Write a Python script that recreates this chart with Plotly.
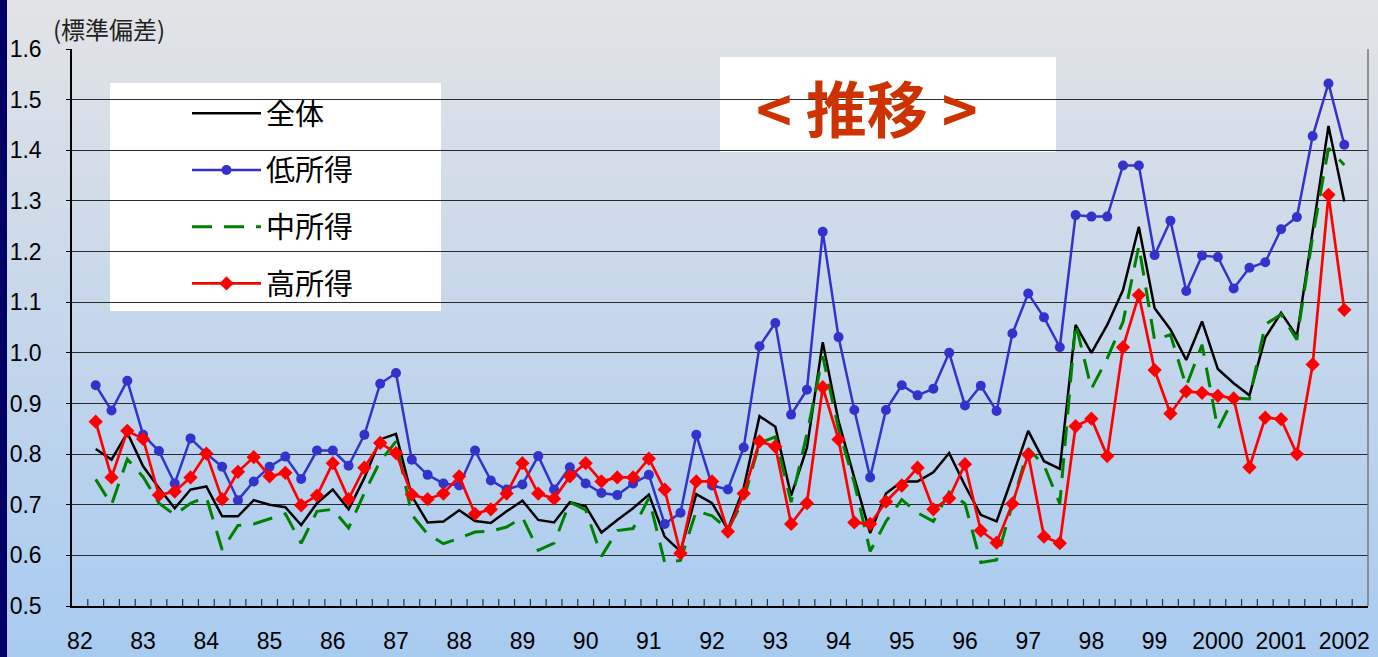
import plotly.graph_objects as go

# 四半期（82年1Q～2002年2Q）
years = [str(y) for y in range(82, 100)] + ["2000", "2001", "2002"]
quarters = [f"{y}Q{q}" for y in years for q in range(1, 5)][:82]
pos = list(range(len(quarters)))
data_pos = pos[1:81]  # 82年2Q～2002年1Q
year_pos = [p for p, q in zip(pos, quarters) if q.endswith("Q1")]
year_text = [q[:-2] for q in quarters if q.endswith("Q1")]
bounds = [p + 0.5 for p in pos[:-1]]

# 標準偏差
total = [0.810, 0.789, 0.842, 0.776, 0.733, 0.693, 0.730, 0.736, 0.677, 0.677, 0.709, 0.700, 0.695,
         0.660, 0.703, 0.730, 0.691, 0.753, 0.829, 0.840, 0.717, 0.665, 0.667, 0.689, 0.668, 0.664, 0.687,
         0.708, 0.670, 0.665, 0.705, 0.697, 0.645, 0.670, 0.693, 0.720, 0.637, 0.608, 0.721, 0.703, 0.651,
         0.733, 0.875, 0.854, 0.718, 0.812, 1.021, 0.865, 0.753, 0.644, 0.722, 0.746, 0.746, 0.764, 0.802,
         0.738, 0.680, 0.667, 0.755, 0.846, 0.786, 0.771, 1.055, 1.000, 1.055, 1.124, 1.249, 1.088,
         1.046, 0.986, 1.062, 0.968, 0.940, 0.916, 1.030, 1.079, 1.033, 1.240, 1.448, 1.299]
low = [0.936, 0.886, 0.945, 0.838, 0.806, 0.742, 0.831, 0.801, 0.775, 0.709, 0.746, 0.775, 0.795,
       0.751, 0.807, 0.807, 0.777, 0.838, 0.939, 0.960, 0.789, 0.759, 0.742, 0.738, 0.807, 0.748, 0.730,
       0.740, 0.796, 0.730, 0.774, 0.742, 0.723, 0.719, 0.742, 0.759, 0.662, 0.684, 0.838, 0.738, 0.730,
       0.813, 1.013, 1.059, 0.878, 0.927, 1.239, 1.031, 0.887, 0.754, 0.887, 0.936, 0.916, 0.929, 1.000,
       0.896, 0.935, 0.885, 1.038, 1.117, 1.070, 1.011, 1.272, 1.269, 1.269, 1.370, 1.370, 1.193,
       1.261, 1.122, 1.192, 1.189, 1.127, 1.168, 1.179, 1.244, 1.268, 1.428, 1.532, 1.411]
mid = [0.750, 0.700, 0.790, 0.755, 0.703, 0.680, 0.703, 0.715, 0.611, 0.659, 0.662, 0.672, 0.682,
       0.624, 0.687, 0.691, 0.654, 0.723, 0.786, 0.825, 0.680, 0.642, 0.623, 0.634, 0.646, 0.648, 0.656,
       0.675, 0.610, 0.624, 0.705, 0.690, 0.598, 0.649, 0.653, 0.713, 0.586, 0.590, 0.688, 0.678, 0.651,
       0.710, 0.822, 0.834, 0.705, 0.840, 0.993, 0.850, 0.743, 0.608, 0.667, 0.710, 0.684, 0.667, 0.725,
       0.702, 0.586, 0.591, 0.700, 0.811, 0.778, 0.702, 1.058, 0.929, 0.989, 1.061, 1.211, 1.025,
       1.036, 0.934, 1.016, 0.849, 0.911, 0.909, 1.056, 1.076, 1.026, 1.230, 1.404, 1.371]
high = [0.864, 0.754, 0.846, 0.830, 0.719, 0.726, 0.754, 0.801, 0.711, 0.765, 0.794, 0.756, 0.763,
        0.699, 0.718, 0.782, 0.711, 0.773, 0.822, 0.802, 0.720, 0.711, 0.722, 0.756, 0.682, 0.691, 0.722,
        0.782, 0.722, 0.712, 0.756, 0.782, 0.746, 0.754, 0.754, 0.791, 0.730, 0.604, 0.746, 0.746, 0.647,
        0.722, 0.825, 0.815, 0.662, 0.703, 0.932, 0.829, 0.665, 0.662, 0.706, 0.738, 0.773, 0.691, 0.713,
        0.780, 0.649, 0.625, 0.702, 0.799, 0.637, 0.624, 0.855, 0.870, 0.796, 1.011, 1.114, 0.966,
        0.880, 0.924, 0.921, 0.915, 0.910, 0.774, 0.872, 0.869, 0.800, 0.977, 1.312, 1.085]

W, H = 1378, 657
L, R, T, B = 72, 10, 49, 51
PH = H - T - B


def py(px):
    # ピクセル(上から) -> paper座標
    return (H - B - px) / PH


def px_(x):
    return (x - L) / (W - L - R)


fig = go.Figure()

fig.add_trace(go.Scatter(x=data_pos, y=total, name="全体", mode="lines", legendgroup="a",
                         text=quarters[1:81], line=dict(color="black", width=2.5)))
fig.add_trace(go.Scatter(x=data_pos, y=low, name="低所得", mode="lines+markers", legendgroup="b",
                         text=quarters[1:81], line=dict(color="#3333cc", width=2.5),
                         marker=dict(symbol="circle", size=10, color="#3333cc")))
fig.add_trace(go.Scatter(x=data_pos, y=mid, name="中所得", mode="lines", legendgroup="c",
                         text=quarters[1:81], line=dict(color="#008000", width=3, dash="20px,12px")))
fig.add_trace(go.Scatter(x=data_pos, y=high, name="高所得", mode="lines+markers", legendgroup="d",
                         text=quarters[1:81], line=dict(color="#ff0000", width=2.7),
                         marker=dict(symbol="diamond", size=11, color="#ff0000")))

# 背景グラデーション
shapes = []
top_c, bot_c = (226, 227, 230), (168, 203, 240)
n = 110
for k in range(n):
    t = k / (n - 1)
    c = tuple(round(a + (b - a) * t) for a, b in zip(top_c, bot_c))
    y0 = k * H / n
    y1 = (k + 1) * H / n + 1
    shapes.append(dict(type="rect", xref="paper", yref="paper", layer="below",
                       x0=px_(0), x1=px_(W), y0=py(y1), y1=py(y0),
                       line=dict(width=0), fillcolor=f"rgb{c}"))
shapes.append(dict(type="rect", xref="paper", yref="paper", layer="below",
                   x0=px_(0), x1=px_(7), y0=py(H), y1=py(0),
                   line=dict(width=0), fillcolor="#000066"))
# 凡例・タイトルの白枠
shapes.append(dict(type="rect", xref="paper", yref="paper", layer="between",
                   x0=px_(110), x1=px_(441), y0=py(311), y1=py(83),
                   line=dict(width=0), fillcolor="white"))
shapes.append(dict(type="rect", xref="paper", yref="paper", layer="between",
                   x0=px_(720), x1=px_(1056), y0=py(152), y1=py(57),
                   line=dict(width=0), fillcolor="white"))
shapes.append(dict(type="line", xref="paper", yref="paper", x0=1, x1=1, y0=0, y1=1,
                   line=dict(color="#777777", width=1.5)))
# 四半期境界の目盛り
for b in bounds:
    shapes.append(dict(type="line", xref="x", yref="paper", x0=b, x1=b, y0=0, y1=7 / PH,
                       layer="above", line=dict(color="#333333", width=1.2)))

fig.update_layout(
    width=W, height=H, autosize=False,
    margin=dict(l=L, r=R, t=T, b=B),
    paper_bgcolor="rgb(226,227,230)", plot_bgcolor="rgba(0,0,0,0)",
    font=dict(family="Arial, 'Liberation Sans', 'Noto Sans CJK JP', sans-serif", size=23, color="black"),
    shapes=shapes,
    showlegend=True,
    legend=dict(x=px_(187), y=py(88), xanchor="left", yanchor="top",
                bgcolor="rgba(0,0,0,0)", borderwidth=0,
                font=dict(family="'Noto Sans CJK JP', sans-serif", size=29, color="black"),
                tracegroupgap=16, itemwidth=69),
    annotations=[
        dict(text="(標準偏差)", xref="paper", yref="paper", x=px_(51), y=py(28),
             xanchor="left", yanchor="middle", showarrow=False,
             font=dict(family="'Noto Sans CJK JP', sans-serif", size=24, color="#222222")),
        dict(text="<b>&lt; 推移 &gt;</b>", xref="paper", yref="paper", x=px_(867), y=py(106),
             xanchor="center", yanchor="middle", showarrow=False,
             font=dict(family="'Noto Sans CJK JP', sans-serif", size=61, color="#cc3300")),
    ],
)

fig.update_xaxes(
    range=[-0.5, len(quarters) - 0.5], tickmode="array", tickvals=year_pos, ticktext=year_text,
    ticks="", tickangle=0, automargin=False,
    showgrid=False, zeroline=False, showline=True, linecolor="black", linewidth=1.5,
    ticklabelstandoff=14,
)
fig.update_yaxes(
    range=[0.5, 1.6], dtick=0.1, tick0=0.5, tickformat=".1f", automargin=False,
    showgrid=True, gridcolor="#2a2a2a", gridwidth=1.2, zeroline=False,
    showline=True, linecolor="black", linewidth=1.5,
    ticks="outside", ticklen=4, tickcolor="black", ticklabelstandoff=20,
)

fig.write_html("out.html", config={"displayModeBar": False},
               post_script="document.body.style.margin='0';document.body.style.overflow='hidden';")
